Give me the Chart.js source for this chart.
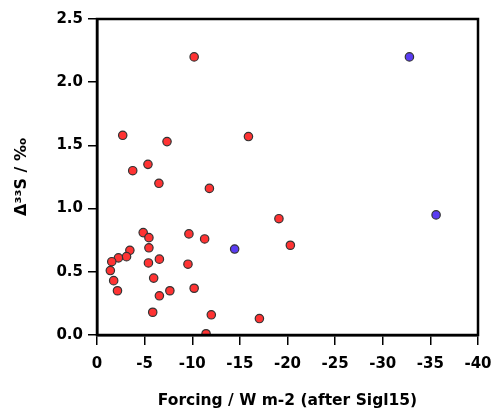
<!DOCTYPE html>
<html>
<head>
<meta charset="utf-8">
<script src="https://cdn.jsdelivr.net/npm/chart.js@4.4.1/dist/chart.umd.min.js"></script>
<style>
  html, body { margin: 0; padding: 0; background: #fff; }
  #grafico { display: block; }
</style>
</head>
<body>
<canvas id="grafico" width="491" height="410"></canvas>
<script>
// datos
const forzamientoRojo = [-10.2, -2.7, -7.35, -15.9, -5.35, -3.75, -6.5, -11.8, -19.1, -20.3,
  -4.85, -5.45, -5.45, -9.65, -11.3, -3.45, -3.1, -2.25, -1.55, -6.55,
  -5.4, -9.55, -1.4, -1.75, -5.95, -2.15, -7.65, -6.55, -10.2, -5.85,
  -12.0, -17.05, -11.45];
const d33sRojo = [2.2, 1.58, 1.53, 1.57, 1.35, 1.30, 1.20, 1.16, 0.92, 0.71,
  0.81, 0.77, 0.69, 0.80, 0.76, 0.67, 0.62, 0.61, 0.58, 0.60,
  0.57, 0.56, 0.51, 0.43, 0.45, 0.35, 0.35, 0.31, 0.37, 0.18,
  0.16, 0.13, 0.01];
const forzamientoAzul = [-32.8, -35.6, -14.45];
const d33sAzul = [2.2, 0.95, 0.68];

const ticksX = [0, -5, -10, -15, -20, -25, -30, -35, -40];
const ticksY = [0, 0.5, 1.0, 1.5, 2.0, 2.5];

const graficoCanvas = document.getElementById('grafico');
const fuente = '"DejaVu Sans", "Liberation Sans", Arial, sans-serif';

function aPuntos(xs, ys) {
  return xs.map((x, i) => ({ x: x, y: ys[i] }));
}

// marco negro alrededor del area
const marco = {
  id: 'marco',
  afterDraw(chart) {
    const a = chart.chartArea;
    const ctx = chart.ctx;
    ctx.save();
    ctx.strokeStyle = '#000';
    ctx.lineWidth = 2.5;
    ctx.strokeRect(a.left, a.top, a.right - a.left, a.bottom - a.top);
    ctx.restore();
  }
};

const chart = new Chart(graficoCanvas, {
  type: 'scatter',
  data: {
    datasets: [
      {
        data: aPuntos(forzamientoRojo, d33sRojo),
        backgroundColor: '#ff3333',
        borderColor: '#333',
        borderWidth: 1.2,
        pointRadius: 4.2
      },
      {
        data: aPuntos(forzamientoAzul, d33sAzul),
        backgroundColor: '#5a3cf2',
        borderColor: '#333',
        borderWidth: 1.2,
        pointRadius: 4.2
      }
    ]
  },
  options: {
    responsive: false,
    animation: false,
    layout: { padding: { top: 19, right: 13, left: 0, bottom: 0 } },
    plugins: {
      legend: { display: false },
      tooltip: { enabled: false }
    },
    scales: {
      x: {
        type: 'linear',
        reverse: true,
        min: -40,
        max: 0,
        afterBuildTicks: s => { s.ticks = ticksX.map(v => ({ value: v })); },
        afterFit: s => { s.height = 75; s.paddingLeft = 0; s.paddingRight = 0; },
        ticks: {
          color: '#000',
          font: { family: fuente, size: 15, weight: 'bold' },
          padding: 10,
          maxRotation: 0,
          callback: v => String(v)
        },
        grid: { display: true, drawOnChartArea: false, drawTicks: true, tickLength: 10, color: '#000', lineWidth: 1.5 },
        border: { display: true, color: '#000', width: 2.5 },
        title: {
          display: true,
          text: 'Forcing / W m-2 (after Sigl15)',
          color: '#000',
          font: { family: fuente, size: 15.5, weight: 'bold' },
          padding: { top: 0, bottom: 0 }
        }
      },
      y: {
        type: 'linear',
        min: 0,
        max: 2.5,
        afterBuildTicks: s => { s.ticks = ticksY.map(v => ({ value: v })); },
        afterFit: s => { s.width = 97; s.paddingTop = 0; s.paddingBottom = 0; },
        ticks: {
          color: '#000',
          font: { family: fuente, size: 15, weight: 'bold' },
          padding: 5,
          callback: v => Number(v).toFixed(1)
        },
        grid: { display: true, drawOnChartArea: false, drawTicks: true, tickLength: 9, color: '#000', lineWidth: 1.5 },
        border: { display: true, color: '#000', width: 2.5 },
        title: {
          display: true,
          text: 'Δ³³S / ‰',
          color: '#000',
          font: { family: fuente, size: 16, weight: 'bold' },
          padding: { top: 12, bottom: 0 }
        }
      }
    }
  },
  plugins: [marco]
});
</script>
</body>
</html>
